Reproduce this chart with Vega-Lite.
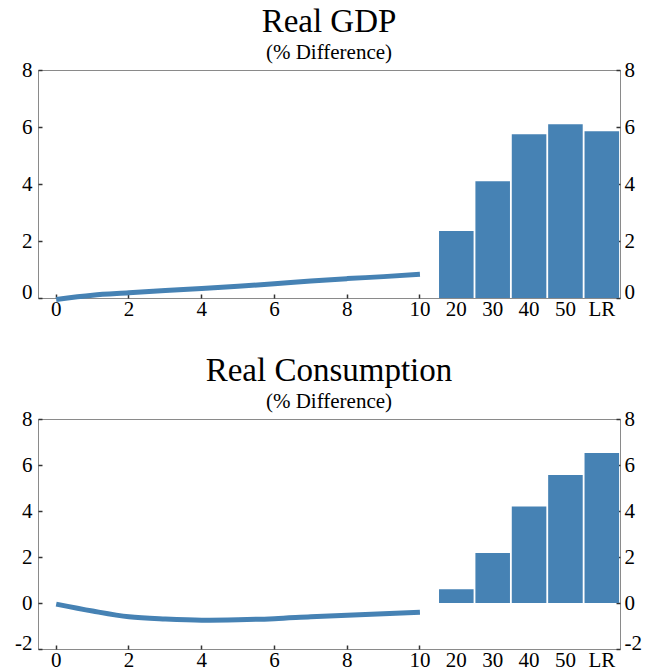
{
  "$schema": "https://vega.github.io/schema/vega-lite/v6.json",
  "padding": {"left": 14, "top": 5, "right": 6, "bottom": 0},
  "config": {
    "font": "Liberation Serif",
    "view": {"stroke": "#8a8a8a", "strokeWidth": 1},
    "axis": {"labelFont": "Liberation Serif", "labelFontSize": 21, "labelColor": "#000", "domain": false, "grid": false, "title": null, "tickColor": "#333", "tickSize": -4, "tickWidth": 1.5},
    "concat": {"spacing": 34},
    "title": {"font": "Liberation Serif", "fontSize": 33, "fontWeight": "normal", "subtitleFont": "Liberation Serif", "subtitleFontSize": 21, "subtitlePadding": 0, "anchor": "middle", "offset": -3.5, "color": "#000", "subtitleColor": "#000"}
  },
  "datasets": {
    "gdp_line": [
      {"period": "0", "value": -0.05}, {"period": "1", "value": 0.1}, {"period": "2", "value": 0.18},
      {"period": "3", "value": 0.26}, {"period": "4", "value": 0.33}, {"period": "5", "value": 0.41},
      {"period": "6", "value": 0.5}, {"period": "7", "value": 0.6}, {"period": "8", "value": 0.68},
      {"period": "9", "value": 0.75}, {"period": "10", "value": 0.83}
    ],
    "gdp_bars": [
      {"period": "20", "value": 2.35}, {"period": "30", "value": 4.1}, {"period": "40", "value": 5.75},
      {"period": "50", "value": 6.1}, {"period": "LR", "value": 5.85}
    ],
    "cons_line": [
      {"period": "0", "value": -0.05}, {"period": "1", "value": -0.35}, {"period": "2", "value": -0.6},
      {"period": "3", "value": -0.7}, {"period": "4", "value": -0.75}, {"period": "5", "value": -0.73},
      {"period": "6", "value": -0.68}, {"period": "7", "value": -0.6}, {"period": "8", "value": -0.53},
      {"period": "9", "value": -0.47}, {"period": "10", "value": -0.4}
    ],
    "cons_bars": [
      {"period": "20", "value": 0.6}, {"period": "30", "value": 2.17}, {"period": "40", "value": 4.2},
      {"period": "50", "value": 5.57}, {"period": "LR", "value": 6.52}
    ]
  },
  "vconcat": [
    {
      "width": 582,
      "height": 228,
      "title": {"text": "Real GDP", "subtitle": "(% Difference)"},
      "layer": [
        {
          "data": {"name": "gdp_bars"},
          "mark": {"type": "bar", "color": "#4682b4"},
          "encoding": {
            "x": {"field": "period", "type": "ordinal", "sort": null,
              "scale": {"domain": ["0","1","2","3","4","5","6","7","8","9","10","20","30","40","50","LR"], "paddingInner": 0.05, "paddingOuter": 0.025},
              "axis": {"labelAngle": 0, "labelPadding": 4,
                "labelExpr": "indexof(['1','3','5','7','9'], datum.value) >= 0 ? '' : datum.value",
                "tickOpacity": {"condition": {"test": "indexof(['0','2','4','6','8','10'], datum.value) >= 0", "value": 1}, "value": 0}}},
            "y": {"field": "value", "type": "quantitative",
              "scale": {"domain": [0, 8], "nice": false, "zero": false},
              "axis": {"orient": "left", "values": [0, 2, 4, 6, 8], "labelPadding": 10,
                "labelBaseline": {"condition": {"test": "datum.value == 0", "value": "alphabetic"}, "value": "middle"}}}
          }
        },
        {
          "data": {"name": "gdp_line"},
          "mark": {"type": "line", "color": "#4682b4", "strokeWidth": 5, "interpolate": "monotone", "strokeCap": "butt"},
          "encoding": {
            "x": {"field": "period", "type": "ordinal", "sort": null},
            "y": {"field": "value", "type": "quantitative",
              "axis": {"orient": "right", "values": [0, 2, 4, 6, 8], "labelPadding": 8,
                "labelBaseline": {"condition": {"test": "datum.value == 0", "value": "alphabetic"}, "value": "middle"}}}
          }
        }
      ],
      "resolve": {"axis": {"y": "independent"}}
    },
    {
      "width": 582,
      "height": 230,
      "title": {"text": "Real Consumption", "subtitle": "(% Difference)"},
      "layer": [
        {
          "data": {"name": "cons_bars"},
          "mark": {"type": "bar", "color": "#4682b4"},
          "encoding": {
            "x": {"field": "period", "type": "ordinal", "sort": null,
              "scale": {"domain": ["0","1","2","3","4","5","6","7","8","9","10","20","30","40","50","LR"], "paddingInner": 0.05, "paddingOuter": 0.025},
              "axis": {"labelAngle": 0, "labelPadding": 4,
                "labelExpr": "indexof(['1','3','5','7','9'], datum.value) >= 0 ? '' : datum.value",
                "tickOpacity": {"condition": {"test": "indexof(['0','2','4','6','8','10'], datum.value) >= 0", "value": 1}, "value": 0}}},
            "y": {"field": "value", "type": "quantitative",
              "scale": {"domain": [-2, 8], "nice": false, "zero": false},
              "axis": {"orient": "left", "values": [-2, 0, 2, 4, 6, 8], "labelPadding": 10,
                "labelExpr": "datum.value < 0 ? '-' + abs(datum.value) : datum.label",
                "labelBaseline": {"condition": {"test": "datum.value == -2", "value": "alphabetic"}, "value": "middle"}}}
          }
        },
        {
          "mark": {"type": "rule", "color": "#8a8a8a", "strokeWidth": 1},
          "encoding": {"y": {"datum": 0, "type": "quantitative", "axis": null}}
        },
        {
          "data": {"name": "cons_line"},
          "mark": {"type": "line", "color": "#4682b4", "strokeWidth": 5, "interpolate": "monotone", "strokeCap": "butt"},
          "encoding": {
            "x": {"field": "period", "type": "ordinal", "sort": null},
            "y": {"field": "value", "type": "quantitative",
              "axis": {"orient": "right", "values": [-2, 0, 2, 4, 6, 8], "labelPadding": 8,
                "labelExpr": "datum.value < 0 ? '-' + abs(datum.value) : datum.label",
                "labelBaseline": {"condition": {"test": "datum.value == -2", "value": "alphabetic"}, "value": "middle"}}}
          }
        }
      ],
      "resolve": {"axis": {"y": "independent"}}
    }
  ]
}
